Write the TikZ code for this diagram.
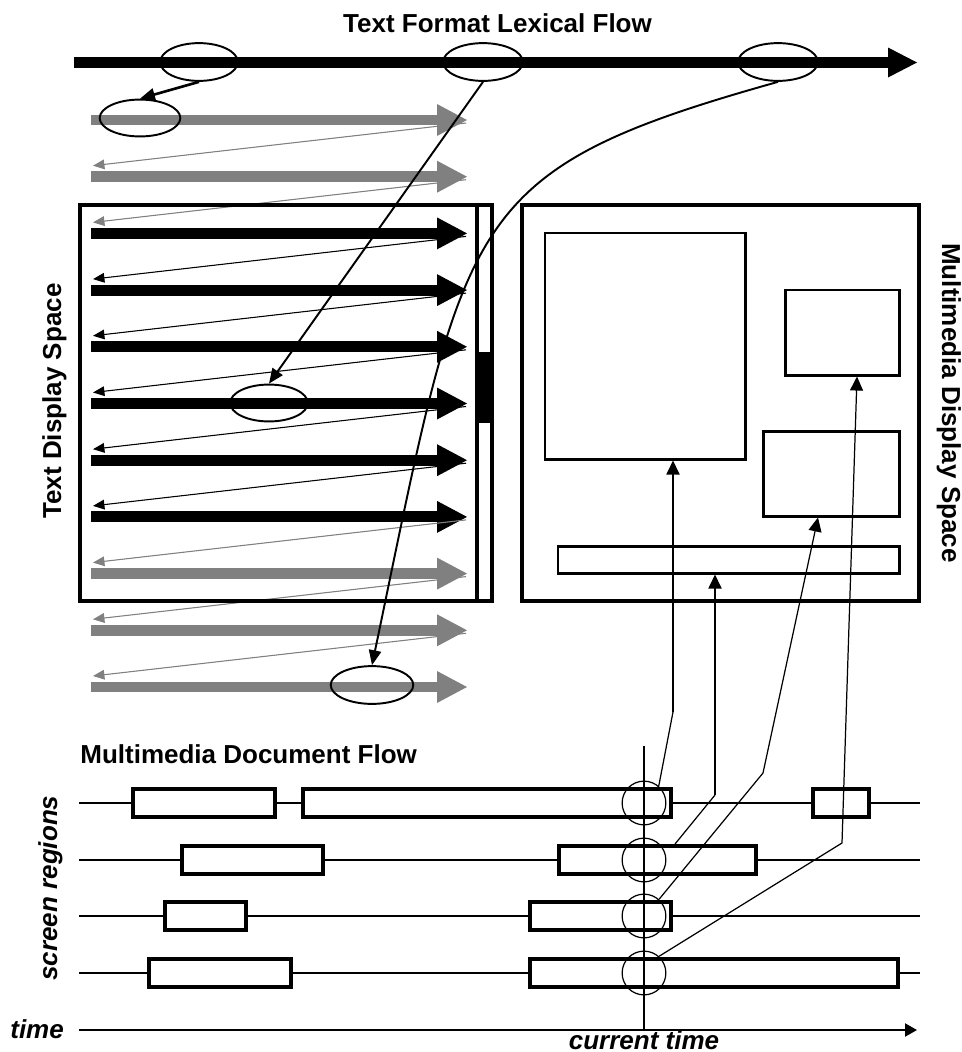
\documentclass[tikz,border=0pt]{standalone}
\usepackage{fontspec}
\setmainfont{Liberation Sans}
\usetikzlibrary{arrows.meta,shapes.geometric,fit}
\definecolor{arrgray}{HTML}{808080}
\begin{document}
\begin{tikzpicture}[x=0.02cm,y=-0.02cm,
  lbl/.style={font=\fontsize{14.8}{17}\selectfont\bfseries, inner sep=0},
  lbli/.style={font=\fontsize{14.8}{17}\selectfont\bfseries\itshape, inner sep=0},
  oval/.style={ellipse, draw, line width=1.1pt, inner sep=0, minimum height=21.5pt},
  frame/.style={draw, line width=2.8pt, inner sep=0},
  region/.style={draw, line width=1.7pt, inner sep=0},
  seg/.style={draw, fill=white, line width=2.6pt, inner sep=0},
  flowarrow/.style={line width=1.2pt, -{Triangle[length=8.5pt,width=7pt]}},
  retarrow/.style={line width=0.6pt, -{Triangle[length=6.5pt,width=5.5pt]}},
  linkthin/.style={line width=0.7pt},
  linkthick/.style={line width=1.1pt},
  linktip/.style={-{Triangle[length=8pt,width=7.4pt]}},
  track/.style={line width=1.1pt},
  clock/.style={circle, draw, line width=0.7pt, minimum size=24.9pt, inner sep=0}
]
\useasboundingbox (0,0) rectangle (961,1052);

% ---------- title and lexical flow ----------
\node[lbl, anchor=base] (title) at (497.5,32) {Text Format Lexical Flow};
\coordinate (ms) at (74,62.5);
\coordinate (me) at (917,62.5);
\draw[line width=6.24pt] (ms) -- (888,62.5);
\fill (888,47.5) -- (me) -- (888,77.5) -- cycle;

% ---------- text lines ----------
\foreach \k/\col in {0/arrgray,1/arrgray,2/black,3/black,4/black,5/black,6/black,7/black,8/arrgray,9/arrgray,10/arrgray}{
  \pgfmathsetmacro\yy{120+56.7*\k}
  \coordinate (rs\k) at (91,\yy);
  \coordinate (re\k) at (467,\yy);
  \draw[\col, line width=6.24pt] (rs\k) -- (437,\yy);
  \fill[\col] (437,\yy-16) -- (re\k) -- (437,\yy+16) -- cycle;
}
\foreach \k/\col in {0/arrgray,1/arrgray,2/black,3/black,4/black,5/black,6/black,7/arrgray,8/arrgray,9/arrgray}{
  \pgfmathsetmacro\ya{120+56.7*\k+3}
  \pgfmathsetmacro\yb{120+56.7*(\k+1)-11}
  \coordinate (ra\k) at (466,\ya);
  \coordinate (rb\k) at (93,\yb);
  \draw[retarrow, draw=\col, fill=\col] (ra\k) -- (rb\k);
}

% ---------- text display box ----------
\node[frame, fit={(80,205) (477,601)}] (tdbox) {};
\node[frame, fit={(477,205) (492,601)}] (scroll) {};
\node[fill, inner sep=0, fit={(477,352) (492,423)}] (thumb) {};
\node[lbl, anchor=base, rotate=90] (tdlabel) at (61,401) {Text Display Space};

% ---------- multimedia display box ----------
\node[frame, fit={(522,205) (919,601)}] (mmbox) {};
\node[region, fit={(545,233) (745,459)}] (big) {};
\node[region, fit={(785,290) (899,375)}] (small) {};
\node[region, fit={(763,431) (899,516)}] (med) {};
\node[region, fit={(558,546) (899,573)}] (bar) {};
\node[lbl, anchor=base, rotate=-90] (mmlabel) at (942,403) {Multimedia Display Space};

% ---------- ovals ----------
\node[oval, minimum width=44.2pt] (e1) at (199,62) {};
\node[oval, minimum width=45.4pt] (e2) at (483,62) {};
\node[oval, minimum width=45.4pt] (e3) at (778,62) {};
\node[oval, minimum width=45.9pt, minimum height=21pt] (e4) at (140,118) {};
\node[oval, minimum width=44.2pt, minimum height=21pt] (e5) at (269,403) {};
\node[oval, minimum width=47pt] (e6) at (372,685) {};

\draw[flowarrow, line width=1.5pt] (e1.south) -- (e4.north);
\draw[flowarrow, line width=1.1pt] (e2.south) -- (e5.north);
\draw[flowarrow, line width=1.1pt] (e3.south) .. controls (460,171) and (466,215) .. (e6.north);

% ---------- multimedia document flow ----------
\node[lbl, anchor=base west] (mdlabel) at (80,763) {Multimedia Document Flow};
\node[lbli, anchor=base, rotate=90] (srlabel) at (57,888) {screen regions};
\node[lbli, anchor=base west] (timelabel) at (10,1038) {time};
\node[lbli, anchor=base] (ctlabel) at (644,1049) {current time};

\foreach \r/\yy in {1/803,2/860,3/916,4/973}{
  \coordinate (ts\r) at (79,\yy);
  \coordinate (te\r) at (920,\yy);
  \draw[track] (ts\r) -- (te\r);
}
\coordinate (ta0) at (79,1030);
\coordinate (ta1) at (917,1030);
\draw[track, -{Triangle[length=6.8pt,width=7.4pt]}] (ta0) -- (ta1);

\node[seg, fit={(133,789) (275,817)}] (s11) {};
\node[seg, fit={(303,789) (671,817)}] (s12) {};
\node[seg, fit={(813,789) (869,817)}] (s13) {};
\node[seg, fit={(182,846) (323,874)}] (s21) {};
\node[seg, fit={(559,846) (756,874)}] (s22) {};
\node[seg, fit={(165,902) (246,930)}] (s31) {};
\node[seg, fit={(530,902) (671,930)}] (s32) {};
\node[seg, fit={(149,959) (291,987)}] (s41) {};
\node[seg, fit={(530,959) (898,987)}] (s42) {};

\coordinate (ct0) at (644,746);
\coordinate (ct1) at (644,1030);
\draw[track] (ct0) -- (ct1);

\node[clock] (c1) at (644,803) {};
\node[clock] (c2) at (644,860) {};
\node[clock] (c3) at (644,916) {};
\node[clock] (c4) at (644,973) {};

% ---------- links from timeline to screen regions ----------
\coordinate (b1) at (673,712);
\draw[linkthin] (c1.49) -- (b1);
\draw[linkthick, linktip] (b1) -- (big.south -| b1);

\coordinate (l2e) at (675,844);
\coordinate (b2) at (715,795);
\draw[linkthin] (l2e) -- (b2);
\draw[linkthick, linktip] (b2) -- (bar.south -| b2);

\coordinate (b3) at (763,773);
\coordinate (x3) at (818,0);
\draw[linkthin, linktip] (c3.48) -- (b3) -- (med.south -| x3);

\coordinate (b4) at (842,843);
\coordinate (x4) at (857,0);
\draw[linkthin, linktip] (c4.48) -- (b4) -- (small.south -| x4);
\end{tikzpicture}
\end{document}
